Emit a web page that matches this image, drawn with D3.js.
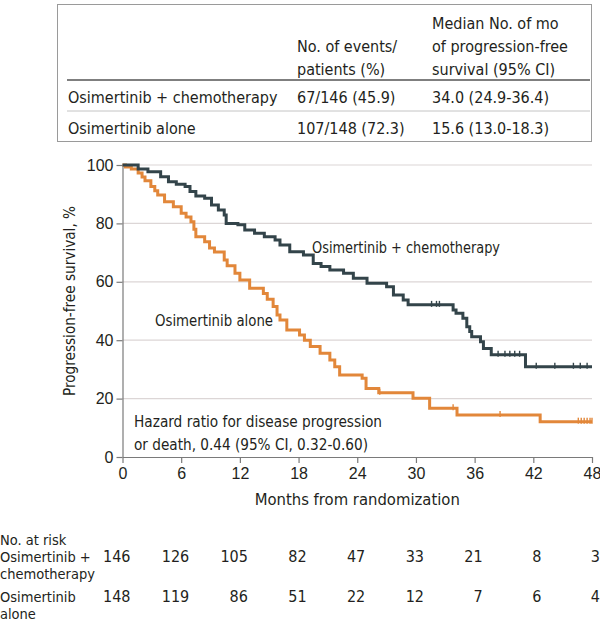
<!DOCTYPE html>
<html>
<head>
<meta charset="utf-8">
<script src="https://cdn.jsdelivr.net/npm/d3@7"></script>
<style>
  body { margin: 0; background: #fff; }
  svg { font-family: "DejaVu Sans Condensed", "DejaVu Sans", sans-serif; font-stretch: condensed; }
</style>
</head>
<body>
<svg id="drawing_region"></svg>
<script>
// summary table
const tableHeaders = [
    { col: 1, lines: ["No. of events/", "patients (%)"] },
    { col: 2, lines: ["Median No. of mo", "of progression-free", "survival (95% CI)"] }
];
const tableRows = [
    ["Osimertinib + chemotherapy", "67/146 (45.9)", "34.0 (24.9-36.4)"],
    ["Osimertinib alone", "107/148 (72.3)", "15.6 (13.0-18.3)"]
];

// Kaplan-Meier steps: [month, % progression-free]
const chemoSteps = [
    [0,100],[1.6,98.6],[2.6,97.7],[3.9,96],[4.7,94.3],[5.5,93.4],[6.4,92.6],[6.9,90.9],
    [7.5,89.4],[8.4,88.6],[9.1,86.3],[9.8,84.6],[10.4,82.9],[10.6,80],[11.8,79.5],
    [12.5,77.7],[13.5,76.6],[14.5,75.4],[15.6,74.3],[16.1,72.6],[17.1,70.3],[18.5,69.2],
    [19.5,66.3],[20.3,65.2],[21.2,64],[22.6,62.9],[23.6,61.2],[25,59.5],[27,58.3],
    [27.7,55.5],[28.7,53.8],[29.2,52.1],[33.8,50.3],[34.1,49.2],[34.8,47.5],[35.2,44.6],
    [35.5,43],[35.7,41.2],[36.6,39.5],[36.9,37.2],[37.7,35],[41.2,30.9],[48,30.9]
];
const aloneSteps = [
    [0,100],[0.3,99.3],[0.9,98.6],[1.6,97.3],[2.0,95.9],[2.3,94.6],[2.9,92.6],[3.3,91.2],
    [3.6,89.7],[4.3,87.4],[5.2,85.7],[6,83.5],[6.5,82.2],[7,80.6],[7.3,78],[7.5,75.4],
    [8.4,73.7],[8.9,71.6],[9.4,70.2],[10.4,67.5],[10.7,65.5],[11.5,62.9],[12,60.6],
    [13,57.8],[14.4,56],[14.8,54],[15.4,51.5],[15.8,48.6],[16.1,46.9],[16.8,43.5],
    [18.1,41.8],[18.6,40],[19.2,37.8],[20.2,35.5],[21.2,33.2],[21.7,30.9],[22.2,28.1],
    [24.5,27],[24.9,23.5],[26.2,22],[29.7,20.1],[31.4,16.7],[34.2,14.4],[42.7,12.1],[48,12.1]
];
const chemoCensor = [31.6,32.1,32.4,38.4,39.1,39.6,40.1,40.6,42.3,44.2,46.1,46.8,47.5];
const aloneCensor = [26.3,33.8,38.6,46.6,46.9,47.2,47.5,47.8,48];

// axes and risk table
const xTicks = [0,6,12,18,24,30,36,42,48];
const yTicks = [0,20,40,60,80,100];
const riskChemo = [146,126,105,82,47,33,21,8,3];
const riskAlone = [148,119,86,51,22,12,7,6,4];

const config = {
    width: 600,
    height: 623,
    plot: { left: 122.5, right: 592, top: 165, bottom: 457 },
    fontSize: 16,
    textColor: "#231f20",
    chemoColor: "#33444a",
    aloneColor: "#e2873a"
};

const svg = d3.select("#drawing_region")
    .attr("width", config.width)
    .attr("height", config.height);

// ---- table
const colX = [68, 297, 432];
const table = svg.append("g")
    .attr("font-size", config.fontSize)
    .attr("fill", config.textColor);

table.append("rect")
    .attr("x", 57.5).attr("y", 4.5)
    .attr("width", 534).attr("height", 137)
    .attr("fill", "none")
    .attr("stroke", "#9a9a9a");

tableHeaders.forEach(h => {
    const n = h.lines.length;
    h.lines.forEach((line, i) => {
        table.append("text")
            .attr("x", colX[h.col])
            .attr("y", 75 - (n - 1 - i) * 23)
            .text(line);
    });
});

table.append("line")
    .attr("x1", 67).attr("x2", 590)
    .attr("y1", 80).attr("y2", 80)
    .attr("stroke", "#555").attr("stroke-width", 1.5);
table.append("line")
    .attr("x1", 67).attr("x2", 590)
    .attr("y1", 111).attr("y2", 111)
    .attr("stroke", "#c4c4c4").attr("stroke-width", 1);

tableRows.forEach((row, r) => {
    row.forEach((cell, c) => {
        table.append("text")
            .attr("x", colX[c])
            .attr("y", 103 + r * 31)
            .text(cell);
    });
});

// ---- plot
const xscale = d3.scaleLinear()
    .domain([0, 48])
    .range([config.plot.left, config.plot.right]);
const yscale = d3.scaleLinear()
    .domain([0, 100])
    .range([config.plot.bottom, config.plot.top]);

const chart = svg.append("g");

chart.append("g")
    .selectAll("line")
    .data(yTicks.filter(d => d > 0))
    .join("line")
    .attr("x1", config.plot.left).attr("x2", config.plot.right)
    .attr("y1", d => yscale(d)).attr("y2", d => yscale(d))
    .attr("stroke", "#dcd6d6").attr("stroke-width", 1.2);

const xaxis = d3.axisBottom(xscale)
    .tickValues(xTicks)
    .tickSize(6)
    .tickPadding(5)
    .tickSizeOuter(0);
const yaxis = d3.axisLeft(yscale)
    .tickValues(yTicks)
    .tickSize(6)
    .tickPadding(3)
    .tickSizeOuter(0);

const xaxis_group = chart.append("g")
    .attr("transform", `translate(0, ${config.plot.bottom})`)
    .call(xaxis);
const yaxis_group = chart.append("g")
    .attr("transform", `translate(${config.plot.left}, 0)`)
    .call(yaxis);

[xaxis_group, yaxis_group].forEach(g => {
    g.select(".domain").attr("stroke", "#7a7a7a").attr("stroke-width", 1.2);
    g.selectAll(".tick line").attr("stroke", "#7a7a7a").attr("stroke-width", 1.2);
    g.selectAll(".tick text")
        .attr("font-family", null)
        .attr("font-size", config.fontSize)
        .attr("fill", config.textColor);
});

const line = d3.line()
    .x(d => xscale(d[0]))
    .y(d => yscale(d[1]))
    .curve(d3.curveStepAfter);

function stepValue(steps, m) {
    let v = steps[0][1];
    steps.forEach(s => { if (s[0] <= m) v = s[1]; });
    return v;
}

[[aloneSteps, aloneCensor, config.aloneColor], [chemoSteps, chemoCensor, config.chemoColor]]
    .forEach(([steps, censor, color]) => {
        chart.append("path")
            .datum(steps)
            .attr("fill", "none")
            .attr("stroke", color)
            .attr("stroke-width", 3)
            .attr("d", line);
        chart.append("g")
            .selectAll("line")
            .data(censor)
            .join("line")
            .attr("x1", d => xscale(d)).attr("x2", d => xscale(d))
            .attr("y1", d => yscale(stepValue(steps, d)) + 2)
            .attr("y2", d => yscale(stepValue(steps, d)) - 4)
            .attr("stroke", color)
            .attr("stroke-width", 1.4);
    });

// labels inside plot
const labels = svg.append("g")
    .attr("fill", config.textColor)
    .attr("font-size", config.fontSize);

labels.append("text").attr("x", 312).attr("y", 253)
    .attr("textLength", 188).attr("lengthAdjust", "spacingAndGlyphs")
    .text("Osimertinib + chemotherapy");
labels.append("text").attr("x", 155).attr("y", 326)
    .attr("textLength", 118).attr("lengthAdjust", "spacingAndGlyphs")
    .text("Osimertinib alone");
labels.append("text").attr("x", 134).attr("y", 427)
    .attr("textLength", 248).attr("lengthAdjust", "spacingAndGlyphs")
    .text("Hazard ratio for disease progression");
labels.append("text").attr("x", 134).attr("y", 450)
    .attr("textLength", 234).attr("lengthAdjust", "spacingAndGlyphs")
    .text("or death, 0.44 (95% CI, 0.32-0.60)");

labels.append("text")
    .attr("x", (config.plot.left + config.plot.right) / 2)
    .attr("y", 505)
    .attr("font-size", 16.5)
    .attr("text-anchor", "middle")
    .text("Months from randomization");

labels.append("text")
    .attr("transform", "translate(75, 301) rotate(-90)")
    .attr("text-anchor", "middle")
    .attr("textLength", 190).attr("lengthAdjust", "spacingAndGlyphs")
    .text("Progression-free survival, %");

// ---- number at risk
const risk = svg.append("g")
    .attr("fill", config.textColor);

const riskLabels = [
    ["No. at risk", 545], ["Osimertinib +", 562], ["chemotherapy", 579],
    ["Osimertinib", 602], ["alone", 619]
];
riskLabels.forEach(([t, y]) => {
    risk.append("text").attr("x", 0).attr("y", y)
        .attr("font-size", 14.5).text(t);
});

[[riskChemo, 562], [riskAlone, 602]].forEach(([vals, y]) => {
    risk.append("g")
        .attr("font-size", config.fontSize)
        .selectAll("text")
        .data(vals)
        .join("text")
        .attr("x", (d, i) => xscale(xTicks[i]) + 8)
        .attr("y", y)
        .attr("text-anchor", "end")
        .text(d => d);
});
</script>
</body>
</html>
